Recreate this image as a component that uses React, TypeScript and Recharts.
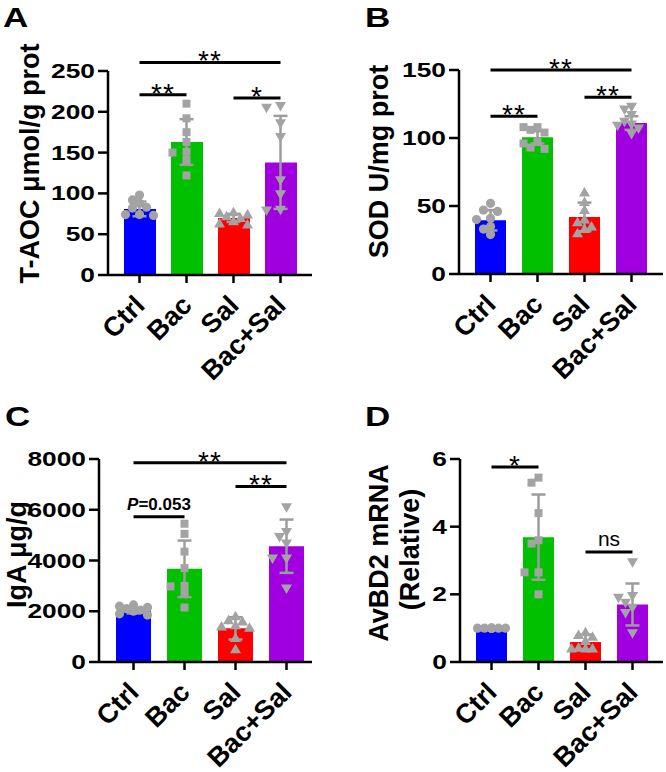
import React from "react";
import { Bar, Cell, ComposedChart, ErrorBar, ReferenceLine, Scatter, XAxis, YAxis } from "recharts";

const FONT = "'Liberation Sans', Arial, Helvetica, sans-serif";
const POINT = "#a3a3a3";
const ERR = "#9c9c9c";

const groups = ["Ctrl", "Bac", "Sal", "Bac+Sal"];
const barColors = ["#0000ff", "#00c000", "#ff0000", "#a000e0"];
const markers = ["circle", "square", "triangle", "triangleDown"];

// A: T-AOC
const taocMean = [81, 163, 70, 138];
const taocSd = [9, 28, 5, 57];
const taocCtrl = [98, 92, 88, 83, 82, 74, 74, 73];
const taocBac = [210, 192, 175, 163, 151, 150, 141, 122];
const taocSal = [77, 76, 74, 72, 70, 66, 63, 62];
const taocBacSal = [207, 205, 186, 169, 116, 99, 80, 79];
const taocTicks = [0, 50, 100, 150, 200, 250];
const taocSig: [string, string, number, string][] = [
  ["Ctrl", "Bac+Sal", 260.5, "**"],
  ["Ctrl", "Bac", 221, "**"],
  ["Sal", "Bac+Sal", 217, "*"],
];

// B: SOD
const sodMean = [39.5, 100.5, 42, 111];
const sodSd = [7.5, 4.5, 10.5, 5];
const sodCtrl = [52, 47, 46, 41, 40, 35, 33, 29];
const sodBac = [108, 108, 106, 104, 97, 96, 93, 92];
const sodSal = [60, 53, 47, 40, 38, 35, 33, 30];
const sodBacSal = [123, 121, 117, 112, 110, 109, 107, 103];
const sodTicks = [0, 50, 100, 150];
const sodSig: [string, string, number, string][] = [
  ["Ctrl", "Bac+Sal", 150, "**"],
  ["Ctrl", "Bac", 116, "**"],
  ["Sal", "Bac+Sal", 130, "**"],
];

// C: IgA
const igaMean = [2006, 3671, 1326, 4563];
const igaSd = [90, 1115, 440, 1050];
const igaCtrl = [2250, 2200, 2150, 2100, 2050, 2000, 1900, 1850];
const igaBac = [5450, 5050, 4350, 3700, 3000, 2980, 2700, 2150];
const igaSal = [1800, 1650, 1600, 1450, 1400, 1350, 950, 500];
const igaBacSal = [6100, 5120, 4930, 4670, 4080, 4080, 2900];
const igaTicks = [0, 2000, 4000, 6000, 8000];
const igaSig: [string, string, number, string][] = [
  ["Ctrl", "Bac+Sal", 7850, "**"],
  ["Sal", "Bac+Sal", 6920, "**"],
  ["Ctrl", "Bac", 5720, "P=0.053"],
];

// D: AvBD2
const avbdMean = [1.0, 3.69, 0.59, 1.7];
const avbdSd = [0, 1.26, 0.22, 0.62];
const avbdCtrl = [1, 1, 1, 1, 1, 1, 1, 1];
const avbdBac = [5.45, 5.3, 4.4, 3.6, 3.5, 2.65, 2.65, 2.0];
const avbdSal = [0.88, 0.8, 0.75, 0.62, 0.42, 0.4, 0.4, 0.4];
const avbdBacSal = [2.95, 1.95, 1.9, 1.75, 1.6, 1.45, 0.85];
const avbdTicks = [0, 2, 4, 6];
const avbdSig: [string, string, number, string][] = [
  ["Ctrl", "Bac", 5.76, "*"],
  ["Sal", "Bac+Sal", 3.25, "ns"],
];

// spread overlapping dots sideways (px), like a scatter dot plot
function swarm(vals: number[], ppu: number): number[] {
  const cands = [0, -7, 7, -14, 14];
  const placed: { x: number; y: number }[] = [];
  return vals.map((v) => {
    const y = v * ppu;
    let best = 0;
    let bestD = -1;
    for (const c of cands) {
      const d = placed.reduce((m, p) => Math.min(m, Math.hypot(c - p.x, y - p.y)), Infinity);
      if (d >= 7.5) {
        best = c;
        break;
      }
      if (d > bestD) {
        bestD = d;
        best = c;
      }
    }
    placed.push({ x: best, y });
    return best;
  });
}

function Marker(props: any) {
  const { cx, cy, payload } = props;
  const x = cx + payload.dx;
  const y = cy;
  if (payload.kind === "circle") return <circle cx={x} cy={y} r={4.6} fill={POINT} />;
  if (payload.kind === "square") return <rect x={x - 4} y={y - 4} width={8} height={8} fill={POINT} />;
  if (payload.kind === "triangle")
    return <polygon points={`${x},${y - 5.5} ${x - 5.5},${y + 4} ${x + 5.5},${y + 4}`} fill={POINT} />;
  return <polygon points={`${x - 5.5},${y - 4} ${x + 5.5},${y - 4} ${x},${y + 5.5}`} fill={POINT} />;
}

function NumTick(props: any) {
  const { x, y, payload } = props;
  return (
    <text transform={`translate(${x},${y}) scale(1.35,1)`} textAnchor="end" dy="0.36em" fontSize={19.5} fontWeight="bold" fontFamily={FONT} fill="#000">
      {payload.value}
    </text>
  );
}

function CatTick(props: any) {
  const { x, y, payload } = props;
  return (
    <text transform={`translate(${x},${y + 15}) rotate(-45)`} textAnchor="end" dy="0.36em" fontSize={27} fontWeight="bold" fontFamily={FONT} fill="#000">
      {payload.value}
    </text>
  );
}

function SigText(props: any) {
  const { viewBox, text } = props;
  if (!viewBox) return null;
  const cx = viewBox.x + viewBox.width / 2;
  const y = viewBox.y;
  if (text === "ns")
    return (
      <text x={cx} y={y - 6} textAnchor="middle" fontSize={21} fontFamily={FONT} fill="#000">
        ns
      </text>
    );
  if (text.startsWith("P="))
    return (
      <text x={cx} y={y - 6.5} textAnchor="middle" fontSize={17} fontWeight="bold" fontFamily={FONT} fill="#000">
        <tspan fontStyle="italic">P</tspan>
        {text.slice(1)}
      </text>
    );
  return (
    <text x={cx} y={y + 8} textAnchor="middle" fontSize={28} letterSpacing={1} fontFamily={FONT} fill="#000">
      {text}
    </text>
  );
}

function Decor(props: any) {
  const { letter, lx, ly, titles } = props;
  return (
    <g fontFamily={FONT} fontWeight="bold" fill="#000">
      <text transform={`translate(${lx},${ly}) scale(1.25,1)`} fontSize={28}>
        {letter}
      </text>
      {titles.map((t: [string, number, number], i: number) => (
        <text key={i} transform={`translate(${t[1]},${t[2]}) rotate(-90)`} textAnchor="middle" fontSize={27}>
          {t[0]}
        </text>
      ))}
    </g>
  );
}

interface PanelProps {
  left: number;
  top: number;
  letter: string;
  lx: number;
  ly: number;
  titles: [string, number, number][];
  means: number[];
  sds: number[];
  points: number[][];
  max: number;
  ticks: number[];
  sig: [string, string, number, string][];
  yW: number;
  mTop: number;
  mRight: number;
  plotH: number;
  padL: number;
  padR: number;
  barSize: number;
}

function Panel(p: PanelProps) {
  const ppu = p.plotH / p.max;
  const rows = groups.map((g, i) => ({ name: g, mean: p.means[i], sd: p.sds[i] }));
  const pts = p.points.map((vals, gi) => {
    const offs = swarm(vals, ppu);
    return vals.map((v, k) => ({ name: groups[gi], v, dx: offs[k], kind: markers[gi] }));
  });
  const axisStyle = { stroke: "#000", strokeWidth: 2.5 };
  return (
    <div style={{ position: "absolute", left: p.left, top: p.top }}>
      <ComposedChart width={333} height={386} data={rows} margin={{ top: p.mTop, right: p.mRight, bottom: 0, left: 0 }}>
        <XAxis
          dataKey="name"
          allowDuplicatedCategory={false}
          interval={0}
          padding={{ left: p.padL, right: p.padR }}
          height={386 - p.mTop - p.plotH}
          axisLine={axisStyle}
          tickLine={axisStyle}
          tickSize={8}
          tick={<CatTick />}
        />
        <YAxis
          type="number"
          domain={[0, p.max]}
          ticks={p.ticks}
          allowDataOverflow
          width={p.yW}
          axisLine={axisStyle}
          tickLine={axisStyle}
          tickSize={10}
          tickMargin={3}
          tick={<NumTick />}
          label={<Decor letter={p.letter} lx={p.lx} ly={p.ly} titles={p.titles} />}
        />
        <Bar dataKey="mean" barSize={p.barSize} isAnimationActive={false}>
          {groups.map((g, i) => (
            <Cell key={g} fill={barColors[i]} />
          ))}
        </Bar>
        {pts.map((d, gi) => (
          <Scatter key={gi} data={d} dataKey="v" shape={Marker} isAnimationActive={false} />
        ))}
        <Scatter data={rows} dataKey="mean" shape={() => <g />} isAnimationActive={false}>
          <ErrorBar dataKey="sd" direction="y" width={7} stroke={ERR} strokeWidth={2.5} />
        </Scatter>
        {p.sig.map((s, i) => (
          <ReferenceLine
            key={i}
            segment={[
              { x: s[0], y: s[2] },
              { x: s[1], y: s[2] },
            ]}
            stroke="#000"
            strokeWidth={3}
            ifOverflow="visible"
            label={<SigText text={s[3]} />}
          />
        ))}
      </ComposedChart>
    </div>
  );
}

export default function App() {
  return (
    <div style={{ position: "absolute", left: 0, top: 0, width: 666, height: 772, background: "#fff" }}>
      <Panel
        left={0}
        top={0}
        letter="A"
        lx={3}
        ly={27}
        titles={[["T-AOC μmol/g prot", 39, 163.5]]}
        means={taocMean}
        sds={taocSd}
        points={[taocCtrl, taocBac, taocSal, taocBacSal]}
        max={250}
        ticks={taocTicks}
        sig={taocSig}
        yW={108}
        mTop={71}
        mRight={21}
        plotH={204}
        padL={8}
        padR={8}
        barSize={32}
      />
      <Panel
        left={333}
        top={0}
        letter="B"
        lx={32}
        ly={27}
        titles={[["SOD U/mg prot", 55, 161.5]]}
        means={sodMean}
        sds={sodSd}
        points={[sodCtrl, sodBac, sodSal, sodBacSal]}
        max={150}
        ticks={sodTicks}
        sig={sodSig}
        yW={126}
        mTop={70}
        mRight={3}
        plotH={204}
        padL={8}
        padR={8}
        barSize={31}
      />
      <Panel
        left={0}
        top={386}
        letter="C"
        lx={5}
        ly={40}
        titles={[["IgA μg/g", 26, 168.5]]}
        means={igaMean}
        sds={igaSd}
        points={[igaCtrl, igaBac, igaSal, igaBacSal]}
        max={8000}
        ticks={igaTicks}
        sig={igaSig}
        yW={99}
        mTop={73}
        mRight={21}
        plotH={203}
        padL={9}
        padR={0}
        barSize={35}
      />
      <Panel
        left={333}
        top={386}
        letter="D"
        lx={32}
        ly={40}
        titles={[
          ["AvBD2 mRNA", 55, 167],
          ["(Relative)", 86, 163.5],
        ]}
        means={avbdMean}
        sds={avbdSd}
        points={[avbdCtrl, avbdBac, avbdSal, avbdBacSal]}
        max={6}
        ticks={avbdTicks}
        sig={avbdSig}
        yW={127}
        mTop={73}
        mRight={3}
        plotH={203}
        padL={8}
        padR={7}
        barSize={31}
      />
    </div>
  );
}
